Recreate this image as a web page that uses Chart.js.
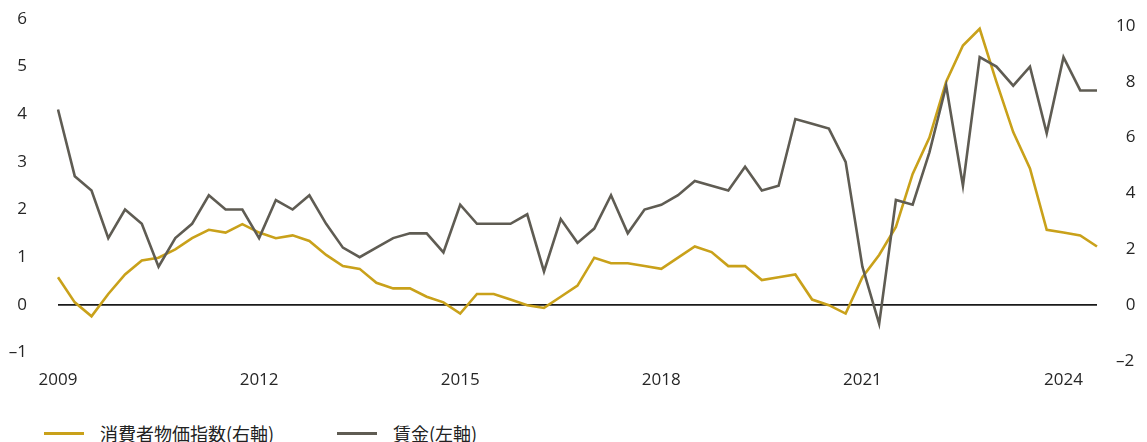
<!DOCTYPE html>
<html lang="ja">
<head>
<meta charset="utf-8">
<script src="https://cdn.jsdelivr.net/npm/chart.js@4/dist/chart.umd.min.js"></script>
<style>
  html, body { margin: 0; padding: 0; background: #fff; }
  #wrap { position: relative; width: 1147px; height: 442px; }
  #box { position: absolute; left: 0; top: 0; width: 1147px; height: 410px; }
  .key { position: absolute; top: 420px; height: 26px; display: flex; align-items: center;
         font-family: "Noto Sans CJK JP", "Noto Sans", sans-serif; font-size: 18px; color: #222; }
  .key i { display: inline-block; width: 40px; height: 3px; margin-right: 16px; }
</style>
</head>
<body>
<div id="wrap">
  <div id="box"><canvas id="myChart"></canvas></div>
  <div class="key" style="left:44px"><i style="background:#c9a11a"></i><span>消費者物価指数(右軸)</span></div>
  <div class="key" style="left:337px"><i style="background:#5f5c53"></i><span>賃金(左軸)</span></div>
</div>
<script>
// quarterly, 2009 Q1 - 2024 Q3
const years = [2009, 2010, 2011, 2012, 2013, 2014, 2015, 2016, 2017, 2018, 2019, 2020, 2021, 2022, 2023, 2024];
const quarters = [];
years.forEach((y) => [1, 2, 3, 4].forEach((q) => quarters.push(y + "Q" + q)));
quarters.length = 63;

const wages = [
  4.1, 2.7, 2.4, 1.4, 2.0, 1.7, 0.8, 1.4, 1.7, 2.3,
  2.0, 2.0, 1.4, 2.2, 2.0, 2.3, 1.7, 1.2, 1.0, 1.2,
  1.4, 1.5, 1.5, 1.1, 2.1, 1.7, 1.7, 1.7, 1.9, 0.7,
  1.8, 1.3, 1.6, 2.3, 1.5, 2.0, 2.1, 2.3, 2.6, 2.5,
  2.4, 2.9, 2.4, 2.5, 3.9, 3.8, 3.7, 3.0, 0.8, -0.4,
  2.2, 2.1, 3.2, 4.6, 2.5, 5.2, 5.0, 4.6, 5.0, 3.6,
  5.2, 4.5, 4.5,
];
const cpi = [
  1.0, 0.1, -0.4, 0.4, 1.1, 1.6, 1.7, 2.0, 2.4, 2.7,
  2.6, 2.9, 2.6, 2.4, 2.5, 2.3, 1.8, 1.4, 1.3, 0.8,
  0.6, 0.6, 0.3, 0.1, -0.3, 0.4, 0.4, 0.2, 0.0, -0.1,
  0.3, 0.7, 1.7, 1.5, 1.5, 1.4, 1.3, 1.7, 2.1, 1.9,
  1.4, 1.4, 0.9, 1.0, 1.1, 0.2, 0.0, -0.3, 1.0, 1.8,
  2.8, 4.7, 6.0, 8.0, 9.3, 9.9, 8.0, 6.2, 4.9, 2.7,
  2.6, 2.5, 2.1,
];
const leftTicks = [-1, 0, 1, 2, 3, 4, 5, 6];
const rightTicks = [-2, 0, 2, 4, 6, 8, 10];
const yearLabels = ["2009", "2012", "2015", "2018", "2021", "2024"];

const fmt = (v) => (v < 0 ? "\u2013" + Math.abs(v) : String(v));
// right axis labels are right aligned: pad single digits with a figure space
const fmtRight = (v) => (v >= 0 && v < 10 ? "\u2007" + v : fmt(v));
const tickFont = { family: "'Open Sans', sans-serif", size: 17 };

// fixed axis sizes, no extra padding from the tick labels
const fitY = (w) => (s) => {
  s.width = w;
  s.paddingTop = 0;
  s.paddingBottom = 0;
};

const ctx = document.getElementById("myChart").getContext("2d");
new Chart(ctx, {
  type: "line",
  data: {
    labels: quarters,
    datasets: [
      {
        label: "賃金(左軸)",
        data: wages,
        yAxisID: "y",
        borderColor: "#5f5c53",
        borderWidth: 2.6,
      },
      {
        label: "消費者物価指数(右軸)",
        data: cpi,
        yAxisID: "y1",
        borderColor: "#c9a11a",
        borderWidth: 2.6,
      },
    ],
  },
  options: {
    responsive: true,
    maintainAspectRatio: false,
    animation: false,
    layout: { padding: { top: 19, left: 0, right: 0, bottom: 0 } },
    elements: { point: { radius: 0 }, line: { tension: 0 } },
    plugins: { legend: { display: false }, tooltip: { enabled: false } },
    scales: {
      x: {
        grid: { display: false, drawTicks: false },
        border: { display: false },
        afterFit: (s) => {
          s.height = 49;
          s.paddingLeft = 0;
          s.paddingRight = 0;
        },
        ticks: {
          autoSkip: false,
          maxRotation: 0,
          padding: 9,
          color: "#262626",
          font: tickFont,
          callback: (v, i) => {
            const lab = quarters[i];
            return yearLabels.includes(lab.slice(0, 4)) && lab.endsWith("Q1") ? lab.slice(0, 4) : "";
          },
        },
      },
      y: {
        position: "left",
        min: -1.18,
        max: 6,
        afterBuildTicks: (s) => { s.ticks = leftTicks.map((v) => ({ value: v })); },
        afterFit: fitY(58),
        border: { display: false },
        grid: {
          drawTicks: false,
          lineWidth: 1.8,
          color: (c) => (c.tick && c.tick.value === 0 ? "#1a1a1a" : "rgba(0,0,0,0)"),
        },
        ticks: { padding: 31, color: "#262626", font: tickFont, callback: fmt },
      },
      y1: {
        position: "right",
        min: -2,
        max: 10.25,
        afterBuildTicks: (s) => { s.ticks = rightTicks.map((v) => ({ value: v })); },
        afterFit: fitY(50),
        border: { display: false },
        grid: { display: false, drawTicks: false },
        ticks: { padding: 19, color: "#262626", font: tickFont, callback: fmtRight },
      },
    },
  },
});
</script>
</body>
</html>
